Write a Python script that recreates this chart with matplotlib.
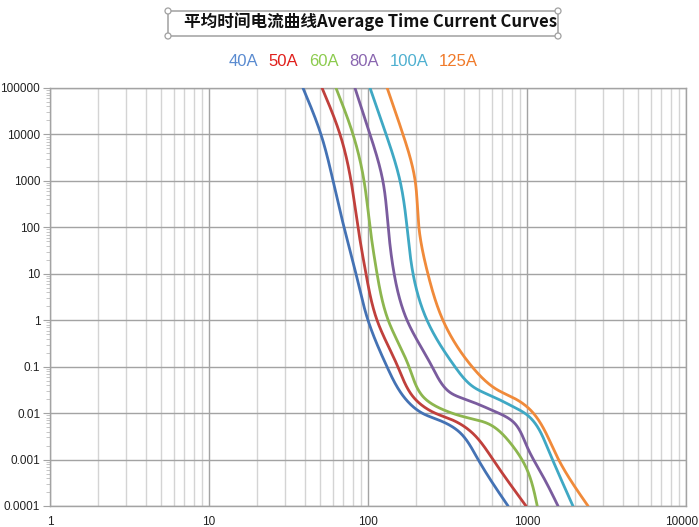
import numpy as np
import matplotlib
matplotlib.use('Agg')
import matplotlib.pyplot as plt
from matplotlib.patches import Rectangle, Ellipse
from matplotlib.ticker import FixedLocator, FuncFormatter, LogLocator, NullFormatter
from matplotlib.transforms import ScaledTranslation

# ---------------- data (current in A, time in s) ----------------
ratings = ['40A', '50A', '60A', '80A', '100A', '125A']

current_40 = [39.0, 50.6, 60.3, 70.7, 84.0, 100, 131.6, 164, 219, 284, 379, 485, 760]
time_40 = [1e5, 1e4, 1e3, 100, 10, 1, 0.1, 0.025, 0.01, 0.0069, 0.0038, 0.0011, 1e-4]

current_50 = [51.4, 66.7, 78.2, 86.5, 97.1, 114, 154, 192, 264, 337, 451, 611, 986]
time_50 = [1e5, 1e4, 1e3, 100, 10, 1, 0.1, 0.0226, 0.01, 0.0072, 0.0038, 0.001, 1e-4]

current_60 = [62.9, 80.5, 94.4, 103, 114, 134, 181, 222, 296, 420, 585, 782, 1000, 1160]
time_60 = [1e5, 1e4, 1e3, 100, 10, 1, 0.1, 0.0226, 0.0119, 0.008, 0.00566, 0.00232, 0.00061, 1e-4]

current_80 = [82.8, 103, 124, 134, 146, 176, 253, 330, 415, 630, 830, 1000, 1262, 1567]
time_80 = [1e5, 1e4, 1e3, 100, 10, 1, 0.1, 0.0275, 0.0195, 0.0108, 0.0062, 0.0019, 0.00043, 1e-4]

current_100 = [103, 130, 159, 176, 192, 235, 352, 457, 611, 817, 1014, 1172, 1336, 1945]
time_100 = [1e5, 1e4, 1e3, 100, 10, 1, 0.1, 0.0372, 0.0226, 0.0138, 0.00883, 0.00488, 0.0019, 1e-4]

current_125 = [132, 166, 198, 209, 238, 296, 451, 521, 648, 840, 1045, 1262, 1545, 2420]
time_125 = [1e5, 1e4, 1e3, 100, 10, 1, 0.1, 0.058, 0.032, 0.0205, 0.0119, 0.00488, 0.00116, 1e-4]

currents = [current_40, current_50, current_60, current_80, current_100, current_125]
times = [time_40, time_50, time_60, time_80, time_100, time_125]

line_colors = ['#4472B4', '#C0403C', '#8DB64F', '#7A5C9E', '#3FA8C4', '#F08A3A']
label_colors = ['#5A8BD0', '#E0201C', '#8CCB4E', '#8A66B0', '#4FB0D0', '#F07A2A']

x_ticks = [1, 10, 100, 1000, 10000]
y_ticks = [1e-4, 1e-3, 1e-2, 1e-1, 1, 10, 100, 1000, 10000, 100000]

title_text = '平均时间电流曲线Average Time Current Curves'


def natural_spline(t, v, tt):
    n = len(t)
    h = np.diff(t)
    A = np.zeros((n, n))
    r = np.zeros(n)
    A[0, 0] = A[-1, -1] = 1.0
    for i in range(1, n - 1):
        A[i, i - 1] = h[i - 1]
        A[i, i] = 2 * (h[i - 1] + h[i])
        A[i, i + 1] = h[i]
        r[i] = 6 * ((v[i + 1] - v[i]) / h[i] - (v[i] - v[i - 1]) / h[i - 1])
    M = np.linalg.solve(A, r)
    idx = np.clip(np.searchsorted(t, tt) - 1, 0, n - 2)
    t0, t1 = t[idx], t[idx + 1]
    hh = t1 - t0
    a = (t1 - tt) / hh
    b = (tt - t0) / hh
    return (a * v[idx] + b * v[idx + 1]
            + ((a ** 3 - a) * M[idx] + (b ** 3 - b) * M[idx + 1]) * hh ** 2 / 6)


def smooth(xs, ys, n=600):
    """Smooth line through the read points (natural cubic spline, log-log, chord parameter)."""
    u = np.log10(xs) * 159.0
    v = np.log10(ys) * 46.5
    d = np.hypot(np.diff(u), np.diff(v))
    t = np.concatenate([[0], np.cumsum(d)])
    tt = np.linspace(0, t[-1], n)
    su = natural_spline(t, u, tt)
    sv = natural_spline(t, v, tt)
    return 10 ** (su / 159.0), 10 ** (sv / 46.5)


fig = plt.figure(figsize=(6.99, 5.27), dpi=100)
W, H = 699, 527
ax = fig.add_axes([50 / W, 1 - 506 / H, (686 - 50) / W, (506 - 88) / H])
ax.set_xscale('log')
ax.set_yscale('log')
ax.set_xlim(1, 10000)
ax.set_ylim(1e-4, 1e5)

handles = []
for cur, tm, lab, col in zip(currents, times, ratings, line_colors):
    sx, sy = smooth(cur, tm)
    h, = ax.plot(sx, sy, color=col, lw=2.0, label=lab, solid_capstyle='round', zorder=3)
    handles.append(h)

# grid
ax.xaxis.set_major_locator(FixedLocator(x_ticks))
ax.xaxis.set_minor_locator(LogLocator(base=10, subs=np.arange(2, 10)))
ax.yaxis.set_major_locator(FixedLocator(y_ticks))
ax.yaxis.set_minor_locator(LogLocator(base=10, subs=np.arange(2, 10), numticks=30))
ax.xaxis.set_minor_formatter(NullFormatter())
ax.yaxis.set_minor_formatter(NullFormatter())
fmt = FuncFormatter(lambda v, p: '%g' % v)
ax.xaxis.set_major_formatter(fmt)
ax.yaxis.set_major_formatter(fmt)

ax.grid(True, which='major', axis='both', color='#A3A3A3', lw=1.0, zorder=0)
ax.grid(True, which='minor', axis='x', color='#D4D4D4', lw=1.0, zorder=0)
ax.set_axisbelow(True)

for s in ax.spines.values():
    s.set_color('#A3A3A3')
    s.set_linewidth(1.0)

ax.tick_params(axis='x', which='both', length=0, pad=7, labelsize=8.5, labelcolor='#222222')
ax.tick_params(axis='y', which='major', length=5, color='#A3A3A3', pad=2, labelsize=8.5, labelcolor='#222222')
ax.tick_params(axis='y', which='minor', length=3, color='#BDBDBD')
for lab in ax.get_xticklabels() + ax.get_yticklabels():
    lab.set_family('Liberation Sans')
# keep the last x label inside the canvas
last = ax.get_xticklabels()[-1]
last.set_transform(last.get_transform() + ScaledTranslation(-4 / 100, 0, fig.dpi_scale_trans))

# title with selection-style frame
fig.text(371 / W, 1 - 22 / H, title_text, ha='center', va='center', fontsize=12,
         fontweight='bold', family=['Noto Sans CJK SC', 'DejaVu Sans'], color='#111111')
x0, x1, y0, y1 = 168 / W, 558 / W, 1 - 36 / H, 1 - 11 / H
fig.patches.append(Rectangle((x0, y0), x1 - x0, y1 - y0, transform=fig.transFigure,
                             fill=False, ec='#A8A8A8', lw=1.2))
for cx, cy in [(x0, y0), (x0, y1), (x1, y0), (x1, y1)]:
    fig.patches.append(Ellipse((cx, cy), 6 / W, 6 / H, transform=fig.transFigure,
                               fc='white', ec='#A0A0A0', lw=0.9))

# legend: coloured labels only
leg = fig.legend(handles=handles, labels=ratings, loc='center', bbox_to_anchor=(353 / W, 1 - 61 / H),
                 ncol=6, frameon=False, handlelength=0, handletextpad=0, columnspacing=0.64,
                 prop={'family': 'Liberation Sans', 'size': 12})
for txt, c in zip(leg.get_texts(), label_colors):
    txt.set_color(c)
for hnd in leg.legend_handles:
    hnd.set_visible(False)

fig.savefig('out.png', dpi=100)
